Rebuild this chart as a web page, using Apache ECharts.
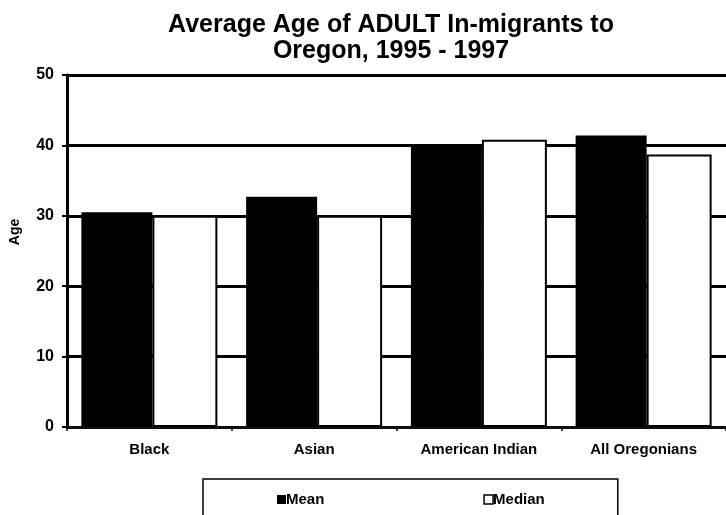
<!DOCTYPE html>
<html>
<head>
<meta charset="utf-8">
<script src="https://cdn.jsdelivr.net/npm/echarts@6/dist/echarts.min.js"></script>
<style>
  html, body { margin: 0; padding: 0; background: #fff; }
  #chart { width: 726px; height: 515px; }
</style>
</head>
<body>
<div id="chart"></div>
<script>
// Average age of adult in-migrants, by group
var categories = ['Black', 'Asian', 'American Indian', 'All Oregonians'];
var meanAge = [30.5, 32.7, 40.2, 41.4];
var medianAge = [30, 30, 40.8, 38.7];
var yTicks = [0, 10, 20, 30, 40, 50];

var FONT = '"Liberation Sans", Arial, sans-serif';
var chart = echarts.init(document.getElementById('chart'), null, { renderer: 'canvas' });

chart.setOption({
  backgroundColor: '#ffffff',
  animation: false,
  title: {
    text: 'Average Age of ADULT In-migrants to\nOregon, 1995 - 1997',
    left: 386,
    top: 7,
    textAlign: 'center',
    textStyle: { fontFamily: FONT, fontWeight: 'bold', fontSize: 25, lineHeight: 26, color: '#000' }
  },
  legend: {
    data: [
      { name: 'Mean', icon: 'rect', itemStyle: { color: '#000', borderWidth: 0 } },
      { name: 'Median', icon: 'rect', itemStyle: { color: '#fff', borderColor: '#000', borderWidth: 1.5 } }
    ],
    left: 203,
    top: 479,
    orient: 'horizontal',
    itemWidth: 9,
    itemHeight: 9,
    itemGap: 159,
    padding: [13, 73, 40, 74],
    borderColor: '#000',
    borderWidth: 1.5,
    selectedMode: false,
    textStyle: { fontFamily: FONT, fontWeight: 'bold', fontSize: 15, color: '#000', padding: [0, 0, 0, -5] }
  },
  grid: { left: 65, top: 75, width: 668, height: 352, containLabel: false },
  xAxis: {
    type: 'category',
    data: categories,
    axisLine: { lineStyle: { color: '#111', width: 2.5 } },
    axisTick: { show: true, length: 4, lineStyle: { color: '#000', width: 1.5 } },
    axisLabel: { fontFamily: FONT, fontWeight: 'bold', fontSize: 15, color: '#000', margin: 15 }
  },
  yAxis: {
    type: 'value',
    min: yTicks[0],
    max: yTicks[yTicks.length - 1],
    interval: yTicks[1] - yTicks[0],
    name: 'Age',
    nameLocation: 'middle',
    nameGap: 45,
    nameTextStyle: { fontFamily: FONT, fontWeight: 'bold', fontSize: 14, color: '#000', padding: [0, 0, 0, 38] },
    axisLine: { show: true, lineStyle: { color: '#000', width: 3 } },
    axisTick: { show: true, length: 5, lineStyle: { color: '#000', width: 2 } },
    axisLabel: { fontFamily: FONT, fontWeight: 'bold', fontSize: 16, color: '#000', margin: 13 },
    splitLine: { show: true, lineStyle: { color: '#000', width: 3 } }
  },
  series: [
    {
      name: 'Mean',
      type: 'bar',
      data: meanAge,
      barWidth: 71,
      barGap: '0%',
      itemStyle: { color: '#000' }
    },
    {
      name: 'Median',
      type: 'bar',
      data: medianAge,
      barWidth: 65,
      barGap: '0%',
      itemStyle: { color: '#fff', borderColor: '#000', borderWidth: 2 }
    }
  ]
});
</script>
</body>
</html>
